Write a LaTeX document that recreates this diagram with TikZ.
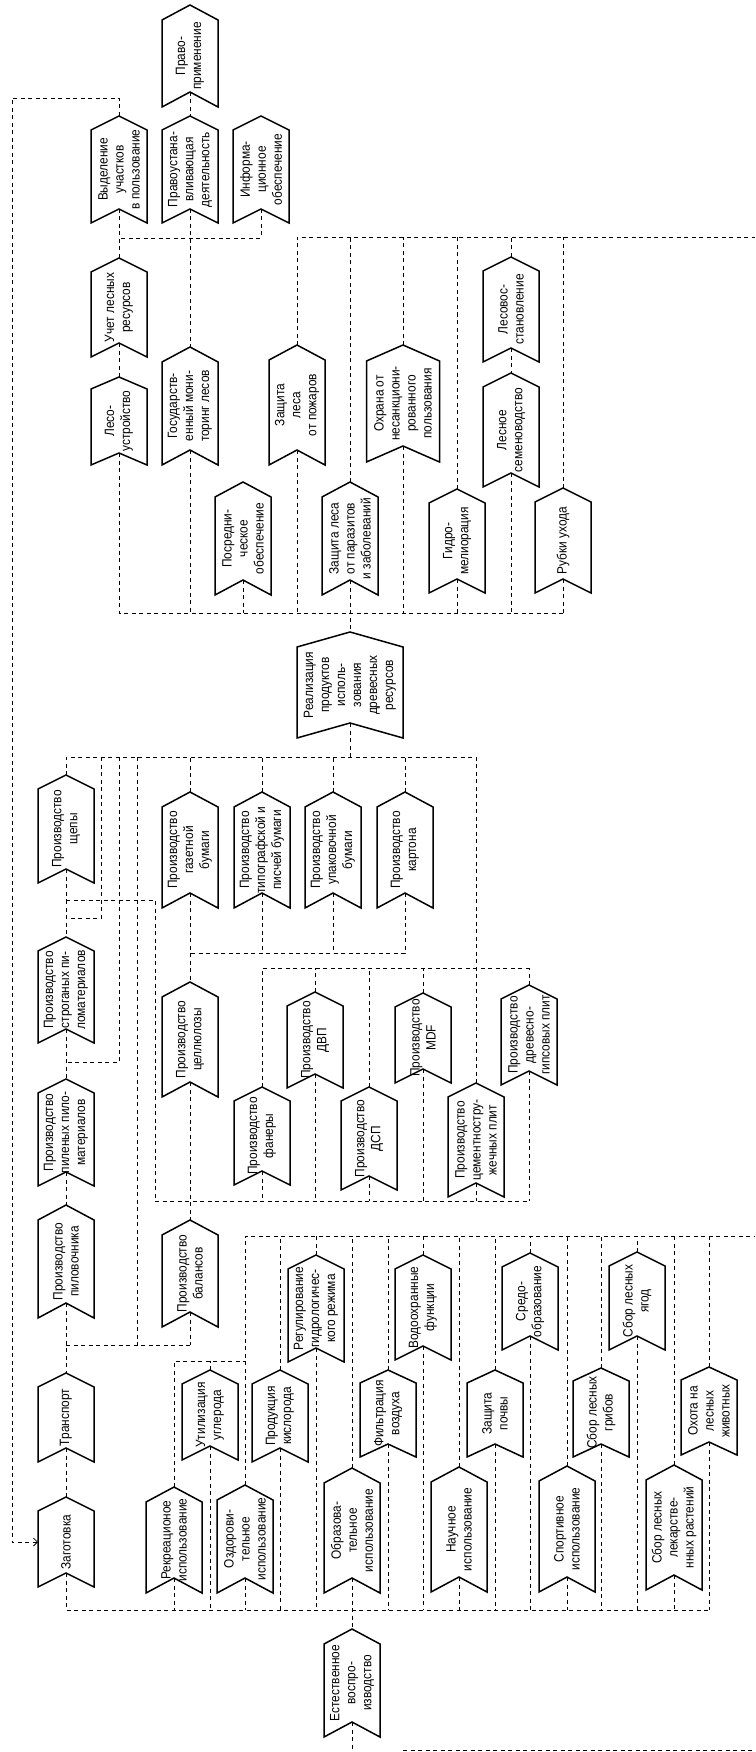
\documentclass[tikz,border=0pt]{standalone}
\usepackage{fontspec}
\setmainfont{Liberation Sans}[FakeStretch=0.88]
\usetikzlibrary{arrows.meta}
\tikzset{
  cbox/.style={rectangle,draw=none,inner sep=0pt,outer sep=0pt},
  cline/.style={line width=1.5pt,line join=miter},
  ctxt/.style={rotate=90,align=center,inner sep=0pt,font=\fontsize{13.5}{16}\selectfont},
  conn/.style={line width=0.75pt,dash pattern=on 4pt off 3.5pt},
  thinsolid/.style={line width=0.75pt},
  arr/.style={-{Straight Barb[length=4pt,width=8pt]}}
}
\newcommand\chv[7]{%
  \node[cbox,minimum width=#4pt,minimum height=#5pt] (#1) at (#2,{#3+#5/2}) {};
  \draw[cline] ([yshift=-#6pt]#1.north west) -- (#1.north) -- ([yshift=-#6pt]#1.north east) -- (#1.south east) -- ([yshift=#6pt]#1.south) -- (#1.south west) -- cycle;
  \coordinate (#1-b) at ([yshift=#6pt]#1.south);
  \node[ctxt] (#1-t) at (#1.center) {#7};
}
\begin{document}
\begin{tikzpicture}[x=1pt,y=-1pt]
\useasboundingbox (0,0) rectangle (755,1752);
% bus coordinates
\coordinate (y237) at (0,237);
\coordinate (y238) at (0,238);
\coordinate (y613) at (0,613);
\coordinate (y757) at (0,757);
\coordinate (y900) at (0,900);
\coordinate (y918) at (0,918);
\coordinate (y953) at (0,953);
\coordinate (y968) at (0,968);
\coordinate (y1062) at (0,1062);
\coordinate (y1201) at (0,1201);
\coordinate (y1236) at (0,1236);
\coordinate (y1345) at (0,1345);
\coordinate (y1361) at (0,1361);
\coordinate (y1610) at (0,1610);
\coordinate (y1750) at (0,1750);
\coordinate (ybot) at (0,1752);
\coordinate (ltop) at (12,98);
\coordinate (redge) at (755,0);
\coordinate (x101) at (101,0);
\coordinate (x119) at (119,0);
\coordinate (x137) at (137,0);
\coordinate (x155) at (155,0);
\coordinate (x403) at (403,0);

% ---------- top section ----------
\chv{prim}{190}{5}{56}{102}{15}{Право-\\применение}
\chv{vyd}{119}{116}{56}{107}{14}{Выделение\\участков\\в пользование}
\chv{pravo}{190}{116}{56}{107}{14}{Правоустана-\\вливающая\\деятельность}
\chv{info}{261}{116}{56}{107}{14}{Информа-\\ционное\\обеспечение}
\chv{uchet}{119}{258}{56}{99}{14}{Учет лесных\\ресурсов}
\chv{les}{119}{377}{56}{88}{12}{Лесо-\\устройство}
\chv{gos}{190}{347}{56}{118}{15}{Государств-\\енный мони-\\торинг лесов}
\chv{pozh}{297}{345}{56}{120}{15}{Защита\\леса\\от пожаров}
\chv{ohr}{403}{345}{73}{117}{16}{Охрана от\\несанкциони-\\рованного\\пользования}
\chv{vos}{511}{257}{56}{105}{14}{Лесовос-\\становление}
\chv{sem}{511}{373}{56}{114}{14}{Лесное\\семеноводство}
\chv{posr}{243}{482}{56}{113}{15}{Посредни-\\ческое\\обеспечение}
\chv{par}{350}{482}{56}{113}{15}{Защита леса\\от паразитов\\и заболеваний}
\chv{gidro}{457}{489}{56}{104}{14}{Гидро-\\мелиорация}
\chv{rub}{563}{488}{56}{105}{14}{Рубки ухода}
\chv{real}{350}{632}{106}{106}{15}{Реализация\\продуктов\\исполь-\\зования\\древесных\\ресурсов}

% ---------- middle section ----------
\chv{shch}{66}{775}{56}{108}{14}{Производство\\щепы}
\chv{gaz}{190}{792}{56}{116}{15}{Производство\\газетной\\бумаги}
\chv{tipo}{262}{792}{56}{116}{15}{Производство\\типографской и\\писчей бумаги}
\chv{upak}{333}{792}{56}{116}{15}{Производство\\упаковочной\\бумаги}
\chv{kart}{405}{792}{56}{116}{15}{Производство\\картона}
\chv{strog}{66}{937}{56}{106}{14}{Производство\\строганых пи-\\ломатериалов}
\chv{cell}{190}{982}{56}{115}{15}{Производство\\целлюлозы}
\chv{dvp}{315}{992}{56}{96}{14}{Производство\\ДВП}
\chv{mdf}{423}{993}{56}{90}{14}{Производство\\MDF}
\chv{dgp}{529}{985}{56}{100}{14}{Производство\\древесно-\\гипсовых плит}
\chv{pil}{66}{1079}{56}{107}{14}{Производство\\пиленых пило-\\материалов}
\chv{fan}{262}{1087}{56}{98}{14}{Производство\\фанеры}
\chv{dsp}{369}{1087}{56}{103}{14}{Производство\\ДСП}
\chv{csp}{476}{1083}{56}{114}{14}{Производство\\цементностру-\\жечных плит}
\chv{pilov}{66}{1205}{56}{113}{15}{Производство\\пиловочника}
\chv{bal}{190}{1220}{56}{107}{15}{Производство\\балансов}

% ---------- bottom section ----------
\chv{reg}{316}{1255}{56}{107}{14}{Регулирование\\гидрологичес-\\кого режима}
\chv{vodo}{423}{1255}{56}{105}{14}{Водоохранные\\функции}
\chv{sred}{530}{1253}{56}{97}{14}{Средо-\\образование}
\chv{yag}{637}{1252}{56}{98}{14}{Сбор лесных\\ягод}
\chv{util}{210}{1370}{56}{90}{14}{Утилизация\\углерода}
\chv{prod}{280}{1370}{56}{92}{14}{Продукция\\кислорода}
\chv{filt}{388}{1370}{56}{87}{13}{Фильтрация\\воздуха}
\chv{poch}{495}{1370}{56}{87}{13}{Защита\\почвы}
\chv{grib}{601}{1368}{56}{89}{13}{Сбор лесных\\грибов}
\chv{ohota}{709}{1367}{56}{88}{13}{Охота на\\лесных\\животных}
\chv{rekr}{174}{1487}{56}{106}{15}{Рекреационое\\использование}
\chv{ozd}{245}{1485}{56}{108}{15}{Оздорови-\\тельное\\использование}
\chv{obr}{352}{1468}{56}{125}{15}{Образова-\\тельное\\использование}
\chv{nauch}{459}{1467}{56}{125}{15}{Научное\\использование}
\chv{sport}{567}{1466}{56}{126}{15}{Спортивное\\использование}
\chv{lek}{674}{1465}{56}{125}{15}{Сбор лесных\\лекарстве-\\нных растений}
\chv{trans}{66}{1373}{56}{89}{14}{Транспорт}
\chv{zag}{66}{1497}{56}{90}{14}{Заготовка}
\chv{est}{352}{1629}{56}{108}{15}{Естественное\\воспро-\\изводство}

% ---------- connectors ----------
\begin{scope}[conn]
% top
\draw (prim-b) -- (pravo.north);
\draw[arr] (vyd.north) |- (ltop) |- (zag.west);
\draw (vyd-b) -- (uchet.north);
\draw (info-b) |- (vyd-b |- y238);
\draw (pravo-b) -- (gos.north);
\draw (uchet-b) -- (les.north);
\draw (les-b) |- (rub-b |- y613);
\foreach \n in {gos,posr,pozh,ohr,gidro,sem,rub}
  \draw (\n-b) -- (\n-b |- y613);
\draw (par-b) -- (real.north);
\draw (pozh.north) |- (redge |- y237);
\foreach \n in {par,ohr,gidro,vos,rub}
  \draw (\n.north) -- (\n.north |- y237);
\draw (vos-b) -- (sem.north);
% middle
\draw (real-b) -- (real-b |- y757);
\draw (shch.north) |- (csp.north |- y757);
\foreach \n in {gaz,tipo,upak,kart}
  \draw (\n.north) -- (\n.north |- y757);
\draw (csp.north) -- (csp.north |- y757);
\draw (x101 |- y757) |- (shch.south |- y918);
\draw (x119 |- y757) |- (shch.south |- y1062);
\draw (x137 |- y757) -- (x137 |- y1345);
\draw[thinsolid] (shch-b) -- (shch-b |- y900);
\draw (shch-b |- y900) -- (strog.north);
\draw (shch-b |- y900) -| (x155 |- y1201);
\draw (strog-b) -- (pil.north);
\draw (pil-b) -- (pilov.north);
\draw (pilov-b) -- (trans.north);
\draw (trans.north |- y1345) -- (bal-b |- y1345);
\draw (bal-b) -- (bal-b |- y1345);
\draw (trans-b) -- (zag.north);
\draw (gaz-b) -- (cell.north);
\draw (kart-b) |- (gaz-b |- y953);
\foreach \n in {tipo,upak}
  \draw (\n-b) -- (\n-b |- y953);
\draw (cell-b) -- (bal.north);
\draw (fan.north) |- (dgp.north |- y968);
\foreach \n in {dvp,dsp,mdf,dgp}
  \draw (\n.north) -- (\n.north |- y968);
\draw (x155 |- y1201) -- (dgp-b |- y1201);
\foreach \n in {fan,dvp,dsp,mdf,csp,dgp}
  \draw (\n-b) -- (\n-b |- y1201);
% bottom
\draw (ozd.north) |- (redge |- y1236);
\draw (rekr.north) |- (ozd.north |- y1361);
\draw (util.north) -- (util.north |- y1361);
\foreach \n in {prod,reg,obr,filt,vodo,nauch,poch,sred,sport,grib,yag,lek,ohota}
  \draw (\n.north) -- (\n.north |- y1236);
\draw (zag-b) |- (ohota-b |- y1610);
\foreach \n in {rekr,util,ozd,prod,reg,filt,vodo,nauch,poch,sred,sport,grib,yag,lek,ohota}
  \draw (\n-b) -- (\n-b |- y1610);
\draw (obr-b) -- (est.north);
\draw (est-b) -- (est-b |- ybot);
\draw (x403 |- y1750) -- (redge |- y1750);
\end{scope}
\end{tikzpicture}
\end{document}
